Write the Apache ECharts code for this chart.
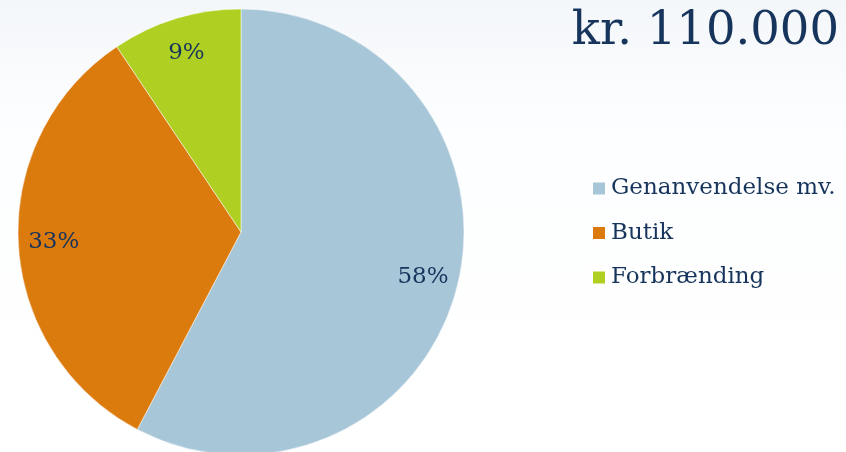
<!DOCTYPE html>
<html>
<head>
<meta charset="utf-8">
<script src="https://cdn.jsdelivr.net/npm/echarts@6/dist/echarts.min.js"></script>
<style>
  html, body { margin: 0; padding: 0; background: #fff; }
  #chart { width: 846px; height: 452px; }
</style>
</head>
<body>
<div id="chart"></div>
<script>
// 数据
const categories = ['Genanvendelse mv.', 'Butik', 'Forbrænding'];
const values = [57.7, 32.9, 9.4];
const pctLabels = ['58%', '33%', '9%'];
const colors = ['#a7c6d8', '#db7a0d', '#afcf22'];
const totalText = 'kr. 110.000';

const serif = "Georgia, 'DejaVu Serif', 'Liberation Serif', serif";
const textColor = '#17355c';

const pieData = categories.map((name, i) => ({
  name,
  value: values[i],
  itemStyle: { color: colors[i] }
}));

const chart = echarts.init(document.getElementById('chart'), null, { renderer: 'canvas' });

const option = {
  backgroundColor: {
    type: 'linear', x: 0, y: 0, x2: 0, y2: 1,
    colorStops: [
      { offset: 0, color: '#f4f7fa' },
      { offset: 0.3, color: '#fdfeff' },
      { offset: 1, color: '#ffffff' }
    ]
  },
  title: {
    text: totalText,
    right: 2,
    top: 3,
    textStyle: {
      fontFamily: serif,
      fontWeight: 'normal',
      fontSize: 46.5,
      color: textColor
    }
  },
  legend: {
    orient: 'vertical',
    left: 586,
    top: 172,
    itemWidth: 14,
    itemHeight: 14,
    itemGap: 21.5,
    icon: 'rect',
    data: categories,
    textStyle: {
      fontFamily: serif,
      fontSize: 23,
      color: textColor
    }
  },
  series: [
    {
      type: 'pie',
      center: [241, 232],
      radius: [0, 223],
      startAngle: 90,
      clockwise: true,
      label: { show: false },
      labelLine: { show: false },
      itemStyle: { borderColor: '#ffffff', borderWidth: 0.5 },
      emphasis: { disabled: true },
      data: pieData
    },
    {
      // 只用来放百分比标签
      type: 'pie',
      center: [241, 232],
      radius: [146, 223],
      startAngle: 90,
      clockwise: true,
      silent: true,
      itemStyle: { color: 'transparent' },
      label: {
        show: true,
        position: 'inside',
        formatter: p => pctLabels[p.dataIndex],
        fontFamily: serif,
        fontSize: 23,
        color: textColor
      },
      labelLine: { show: false },
      emphasis: { disabled: true },
      data: categories.map((name, i) => ({ name, value: values[i] }))
    }
  ]
};

chart.setOption(option);
</script>
</body>
</html>
